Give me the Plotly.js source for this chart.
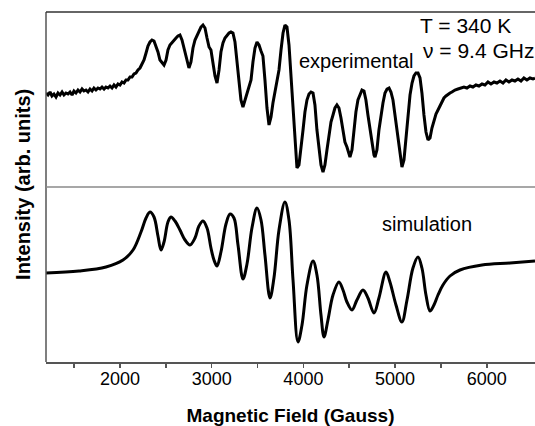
<!DOCTYPE html>
<html>
<head>
<meta charset="utf-8">
<script src="https://cdn.plot.ly/plotly-3.0.1.min.js"></script>
<style>html,body{margin:0;padding:0;background:#fff;}#chart{width:535px;height:426px;}</style>
</head>
<body>
<div id="chart"></div>
<script>
// Experimental spectrum: magnetic field (Gauss) and intensity (arb. units)
const expField = [1193,1215,1237,1258,1280,1302,1324,1346,1368,1389,1411,1433,1455,1477,1498,1520,1542,1564,1586,1607,1629,1651,1673,1695,1716,1738,1760,1782,1804,1826,1847,1869,1891,1913,1935,1956,1978,2000,2022,2044,2065,2087,2109,2131,2153,2174,2196,2218,2240,2262,2284,2305,2327,2349,2371,2393,2414,2436,2458,2480,2502,2523,2545,2567,2589,2611,2632,2654,2676,2698,2720,2741,2752,2774,2796,2818,2840,2861,2883,2905,2927,2949,2971,2992,3014,3036,3058,3080,3101,3123,3145,3167,3189,3210,3232,3254,3276,3298,3319,3341,3363,3385,3407,3429,3450,3472,3494,3516,3538,3559,3581,3603,3625,3647,3668,3690,3712,3734,3756,3778,3799,3821,3843,3865,3887,3908,3930,3952,3974,3996,4017,4039,4061,4083,4105,4126,4148,4170,4192,4214,4235,4257,4279,4301,4323,4344,4366,4388,4410,4432,4453,4475,4497,4508,4530,4551,4573,4595,4617,4639,4661,4682,4704,4726,4748,4770,4781,4802,4824,4846,4868,4890,4912,4934,4955,4977,4999,5021,5043,5064,5075,5097,5119,5141,5163,5185,5206,5228,5250,5272,5293,5315,5337,5359,5381,5402,5424,5446,5468,5490,5511,5533,5555,5577,5599,5620,5653,5686,5718,5751,5784,5817,5849,5882,5915,5948,5980,6013,6046,6079,6111,6144,6177,6209,6242,6275,6307,6340,6373,6405,6438,6471,6504,6526];
const expIntensity = [1,-1,2,-2,0,-3,1,-1,2,-1,1,0,2,-1,3,1,4,2,5,3,4,2,5,3,6,4,6,5,7,5,7,6,8,6,9,7,10,9,12,11,14,14,17,17,20,21,24,26,30,34,41,48,52,54,53,48,42,34,31,29,34,44,49,51,54,56,58,59,54,46,36,28,26,32,46,54,59,64,67,69,66,56,47,44,32,18,11,24,42,51,56,59,61,62,61,52,34,12,-6,-13,-6,1,6,14,32,46,52,49,43,38,14,-14,-31,-23,-9,2,11,24,44,61,69,67,49,19,-6,-46,-74,-71,-56,-36,-18,-6,0,2,1,-11,-36,-56,-71,-78,-71,-56,-39,-28,-21,-14,-11,-14,-24,-36,-48,-53,-61,-63,-56,-36,-18,-6,0,4,3,-6,-21,-36,-51,-61,-63,-56,-36,-21,-9,1,5,6,2,-6,-21,-41,-56,-69,-73,-66,-46,-21,-1,11,18,21,21,16,1,-21,-38,-46,-44,-34,-26,-20,-16,-12,-8,-4,-2,0,1,2,4,5,6,7,6,8,7,9,8,10,9,12,10,12,11,13,11,14,12,14,13,15,13,16,14,16,15,16];

// Simulated spectrum
const simField = [1193,1553,1847,2033,2142,2229,2284,2327,2371,2414,2447,2480,2523,2556,2600,2654,2709,2763,2818,2861,2905,2949,2992,3025,3058,3101,3156,3200,3243,3287,3341,3385,3439,3494,3538,3581,3636,3679,3734,3799,3843,3887,3941,3985,4039,4105,4148,4192,4225,4268,4323,4388,4432,4475,4530,4584,4650,4704,4770,4824,4901,4944,5010,5075,5130,5195,5250,5293,5337,5381,5424,5468,5522,5599,5708,5948,6253,6526];
const simIntensity = [0,2,6,13,23,41,55,61,56,37,23,31,51,56,52,43,33,28,35,47,52,45,25,13,7,21,49,59,55,28,-6,9,45,65,53,18,-25,-5,43,71,53,-7,-69,-52,-12,12,-2,-42,-64,-47,-22,-9,-17,-29,-37,-27,-17,-25,-40,-25,1,-9,-32,-49,-27,5,16,5,-22,-38,-32,-22,-12,-3,3,8,10,12];

const xTickVals = [2000,3000,4000,5000,6000];
const xTickText = ['2000','3000','4000','5000','6000'];
const xMinorVals = [1500,2500,3500,4500,5500];

const FONT = 'Liberation Sans, Arial, Helvetica, sans-serif';
const AX = '#555555';
const X_RANGE = [1193, 6526];

const traces = [
  {x: expField, y: expIntensity, xaxis: 'x', yaxis: 'y2', type: 'scatter', mode: 'lines',
   line: {color: '#000000', width: 3}, name: 'experimental', hoverinfo: 'x+y'},
  {x: simField, y: simIntensity, xaxis: 'x2', yaxis: 'y', type: 'scatter', mode: 'lines',
   line: {color: '#000000', width: 3, shape: 'spline', smoothing: 1}, name: 'simulation', hoverinfo: 'x+y'}
];

const layout = {
  width: 535, height: 426,
  margin: {l: 46, r: 0, t: 12, b: 64, pad: 0},
  paper_bgcolor: '#ffffff', plot_bgcolor: '#ffffff',
  showlegend: false,
  font: {family: FONT, color: '#000000'},
  // labels + title axis (no tick marks, so labels sit close to the line)
  xaxis: {
    range: X_RANGE, anchor: 'y',
    tickvals: xTickVals, ticktext: xTickText,
    ticks: '',
    showline: true, linecolor: AX, linewidth: 1.5,
    showgrid: false, zeroline: false,
    tickfont: {family: FONT, size: 18, color: '#000000'},
    title: {text: 'Magnetic Field (Gauss)', font: {family: FONT, size: 19, color: '#000000', weight: 'bold'}, standoff: 29}
  },
  // tick-mark axis overlaying the same field range
  xaxis2: {
    range: X_RANGE, anchor: 'y', overlaying: 'x', side: 'bottom',
    tickvals: xTickVals, showticklabels: false,
    ticks: 'outside', ticklen: 5, tickwidth: 1.5, tickcolor: AX,
    minor: {ticks: 'outside', ticklen: 5, tickwidth: 1.5, tickcolor: AX, tickvals: xMinorVals, showgrid: false},
    showline: false, showgrid: false, zeroline: false
  },
  yaxis: {
    domain: [0, 0.5], range: [-89, 86],
    showticklabels: false, ticks: '', showgrid: false, zeroline: false, showline: false
  },
  yaxis2: {
    domain: [0.5, 1], range: [-93, 82], anchor: 'x',
    showticklabels: false, ticks: '', showgrid: false, zeroline: false, showline: false
  },
  shapes: [
    {type: 'line', xref: 'paper', yref: 'paper', x0: 0, x1: 0, y0: 0, y1: 1, line: {color: AX, width: 1.5}},
    {type: 'line', xref: 'paper', yref: 'paper', x0: 0, x1: 1, y0: 1, y1: 1, line: {color: '#333333', width: 1.5}},
    {type: 'line', xref: 'paper', yref: 'paper', x0: 0, x1: 1, y0: 0.5, y1: 0.5, line: {color: '#8a8a8a', width: 1.5}}
  ],
  annotations: [
    {text: 'Intensity (arb. units)', xref: 'paper', yref: 'paper', x: -0.047, y: 0.506, textangle: -90,
     showarrow: false, xanchor: 'center', yanchor: 'middle', font: {family: FONT, size: 20, weight: 'bold', color: '#000000'}},
    {text: 'experimental', xref: 'paper', yref: 'paper', x: 0.635, y: 0.86, showarrow: false,
     xanchor: 'center', yanchor: 'middle', font: {family: FONT, size: 20, color: '#000000'}},
    {text: 'simulation', xref: 'paper', yref: 'paper', x: 0.78, y: 0.394, showarrow: false,
     xanchor: 'center', yanchor: 'middle', font: {family: FONT, size: 20, color: '#000000'}},
    {text: 'T = 340 K', xref: 'paper', yref: 'paper', x: 0.761, y: 0.961, showarrow: false,
     xanchor: 'left', yanchor: 'middle', font: {family: FONT, size: 21, color: '#000000'}},
    {text: 'ν = 9.4 GHz', xref: 'paper', yref: 'paper', x: 0.767, y: 0.89, showarrow: false,
     xanchor: 'left', yanchor: 'middle', font: {family: FONT, size: 21, color: '#000000'}}
  ]
};

Plotly.newPlot('chart', traces, layout, {displayModeBar: false, staticPlot: true});
</script>
</body>
</html>
